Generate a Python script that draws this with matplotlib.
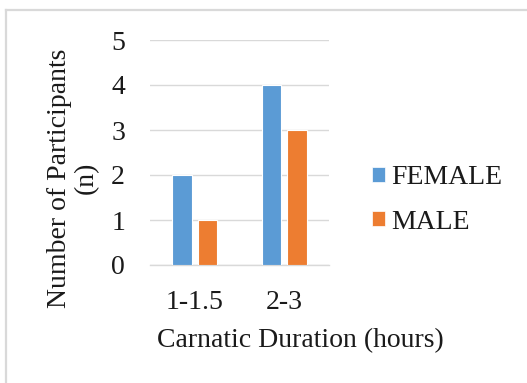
import matplotlib
matplotlib.use('Agg')
import matplotlib.pyplot as plt
from matplotlib.lines import Line2D
from matplotlib.patches import Patch
import numpy as np

# data
categories = ['1-1.5', '2-3']
female = [2, 4]
male = [1, 3]
y_ticks = [0, 1, 2, 3, 4, 5]

blue = '#5B9BD5'
orange = '#ED7D31'
grid_col = '#d9d9d9'
txt = '#1a1a1a'

plt.rcParams['font.family'] = ['Liberation Serif', 'DejaVu Serif']
plt.rcParams['font.size'] = 20
plt.rcParams['text.color'] = txt

W, H = 527, 383
fig = plt.figure(figsize=(W / 100, H / 100), dpi=100)

# plot area in pixels: x 150-329, y 40-265
ax = fig.add_axes([150 / W, 1 - 265 / H, 179 / W, 225 / H])

x = np.arange(len(categories))
bw = 0.22
off = 0.142
ax.bar(x - off, female, bw, color=blue, edgecolor='white', linewidth=0.8, zorder=3)
ax.bar(x + off, male, bw, color=orange, edgecolor='white', linewidth=0.8, zorder=3)

ax.set_xlim(-0.5, len(categories) - 0.5)
ax.set_ylim(0, 5)
ax.set_yticks(y_ticks)
ax.set_xticks(x)
ax.set_xticklabels(categories)
ax.yaxis.grid(True, color=grid_col, linewidth=1.0, zorder=0)
ax.set_axisbelow(True)
for s in ax.spines.values():
    s.set_visible(False)
ax.tick_params(axis='both', length=0, labelsize=20, colors=txt)
ax.tick_params(axis='y', pad=18)
ax.tick_params(axis='x', pad=18)
ax.axhline(0, color=grid_col, linewidth=1.0, zorder=1, clip_on=False)

# axis titles (Excel centres them on the whole chart, not the plot area)
fig.text(73 / W, 1 - 178 / H, 'Number of Participants\n(n)', rotation=90,
         ha='center', va='center', multialignment='center',
         fontsize=20, linespacing=1.1, color=txt)
fig.text(300 / W, 1 - 341 / H, 'Carnatic Duration (hours)',
         ha='center', va='center', fontsize=20, color=txt)

handles = [Patch(facecolor=blue, edgecolor='white', linewidth=0.5),
           Patch(facecolor=orange, edgecolor='white', linewidth=0.5)]
fig.legend(handles, ['FEMALE', 'MALE'], loc='center left',
           bbox_to_anchor=(372 / W, 1 - 200 / H), frameon=False,
           borderpad=0, borderaxespad=0, handlelength=0.45, handleheight=0.45,
           handletextpad=0.25, labelspacing=0.7, fontsize=20)

# chart border (light gray, clipped by image edge on right/bottom)
fig.add_artist(Line2D([6 / W, 6 / W], [0, 1 - 10 / H], color=grid_col,
                      linewidth=1.6, transform=fig.transFigure))
fig.add_artist(Line2D([6 / W, 1], [1 - 10 / H, 1 - 10 / H], color=grid_col,
                      linewidth=1.6, transform=fig.transFigure))

fig.savefig('out.png', dpi=100)
